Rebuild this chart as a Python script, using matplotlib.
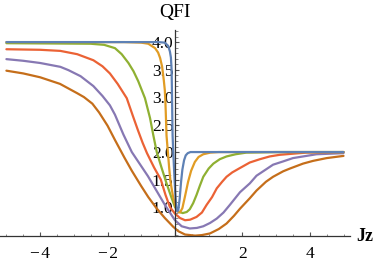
import numpy as np
import matplotlib
matplotlib.use("Agg")
import matplotlib.pyplot as plt
from matplotlib.ticker import MultipleLocator, FixedLocator

plt.rcParams['font.family'] = ['Liberation Serif', 'DejaVu Serif']

# curves (x = Jz, y = QFI)
blue_x = [-5, -1.0, -0.5, -0.3, -0.2, -0.15, -0.12, -0.1, -0.09, -0.08, -0.07, -0.05,
          -0.02, 0.01, 0.04, 0.07, 0.1, 0.14, 0.18, 0.22, 0.27, 0.32, 0.38, 0.46, 1.0, 5.0]
blue_y = [4.0, 4.0, 4.0, 3.99, 3.93, 3.83, 3.72, 3.5, 3.15, 2.7, 2.3, 2.0,
          1.6, 1.25, 1.0, 0.92, 0.95, 1.15, 1.45, 1.68, 1.85, 1.94, 1.98, 2.0, 2.0, 2.0]

orange_x = [-5, -1.5, -1.0, -0.79, -0.59, -0.5, -0.44, -0.38, -0.33, -0.3, -0.28, -0.25,
            -0.21, -0.17, -0.13, -0.06, 0.02, 0.08, 0.15, 0.22, 0.3, 0.39, 0.48, 0.59,
            0.7, 0.84, 1.05, 1.3, 5.0]
orange_y = [4.0, 4.0, 3.99, 3.97, 3.89, 3.81, 3.71, 3.55, 3.3, 3.12, 2.86, 2.3,
            2.0, 1.7, 1.45, 1.2, 1.0, 0.92, 0.9, 0.98, 1.2, 1.46, 1.66, 1.82,
            1.91, 1.96, 1.99, 2.0, 2.0]

green_x = [-5, -2.5, -2.1, -1.78, -1.58, -1.38, -1.23, -1.09, -0.89, -0.74, -0.64, -0.54,
           -0.4, -0.26, -0.12, 0.0, 0.1, 0.23, 0.35, 0.44, 0.54, 0.64, 0.74, 0.84,
           1.0, 1.14, 1.33, 1.53, 1.8, 2.12, 3.0, 5.0]
green_y = [3.98, 3.97, 3.95, 3.89, 3.78, 3.62, 3.47, 3.29, 2.98, 2.62, 2.3, 2.0,
           1.72, 1.45, 1.2, 1.0, 0.92, 0.89, 0.91, 0.96, 1.07, 1.22, 1.39, 1.55,
           1.7, 1.79, 1.87, 1.92, 1.96, 1.99, 2.0, 2.0]

red_x = [-5, -4, -3.4, -2.9, -2.42, -2.15, -1.93, -1.7, -1.43, -1.25, -1.1, -0.96,
         -0.83, -0.62, -0.42, -0.28, -0.15, 0.0, 0.15, 0.3, 0.45, 0.64, 0.8, 0.94,
         1.1, 1.24, 1.4, 1.53, 1.7, 1.9, 2.22, 2.52, 2.81, 3.11, 3.5, 3.9, 5.0]
red_y = [3.87, 3.86, 3.84, 3.78, 3.67, 3.56, 3.43, 3.24, 2.98, 2.66, 2.4, 2.17,
         1.98, 1.72, 1.5, 1.22, 1.0, 0.88, 0.8, 0.76, 0.77, 0.82, 0.9, 1.04,
         1.18, 1.34, 1.46, 1.55, 1.63, 1.7, 1.81, 1.87, 1.92, 1.95, 1.97, 1.99, 2.0]

purple_x = [-5, -4.5, -4, -3.4, -3.16, -2.8, -2.42, -2.15, -1.93, -1.78, -1.53, -1.28,
            -1.04, -0.8, -0.55, -0.3, -0.15, 0.0, 0.2, 0.44, 0.65, 0.84, 1.04,
            1.24, 1.44, 1.63, 1.93, 2.22, 2.42, 2.91, 3.21, 3.5, 4.2, 5.0]
purple_y = [3.69, 3.66, 3.62, 3.55, 3.49, 3.38, 3.2, 3.02, 2.85, 2.68, 2.32, 2.0,
            1.78, 1.56, 1.3, 1.04, 0.9, 0.76, 0.65, 0.61, 0.62, 0.65, 0.71,
            0.79, 0.9, 1.04, 1.27, 1.43, 1.57, 1.77, 1.83, 1.89, 1.96, 1.98]

brown_x = [-5, -4.5, -4, -3.41, -2.9, -2.7, -2.45, -2.25, -2.0, -1.78, -1.5, -1.28,
           -1.0, -0.79, -0.55, -0.3, -0.05, 0.1, 0.3, 0.6, 0.8, 1.04, 1.3, 1.53,
           1.75, 1.93, 2.22, 2.42, 2.7, 2.91, 3.21, 3.41, 3.8, 4.1, 4.5, 5.0]
brown_y = [3.48, 3.43, 3.36, 3.24, 3.07, 3.0, 2.88, 2.72, 2.48, 2.22, 1.9, 1.66,
           1.38, 1.18, 0.98, 0.8, 0.64, 0.56, 0.5, 0.48, 0.49, 0.52, 0.6, 0.7,
           0.84, 0.97, 1.16, 1.3, 1.46, 1.55, 1.65, 1.7, 1.79, 1.84, 1.89, 1.93]

curves = [
    (blue_x, blue_y, '#5E81B5'),
    (orange_x, orange_y, '#E19C24'),
    (green_x, green_y, '#8FB032'),
    (red_x, red_y, '#EB6235'),
    (purple_x, purple_y, '#8778B3'),
    (brown_x, brown_y, '#C56E1A'),
]

x_major = [-4, -2, 0, 2, 4]
x_labels = ['\u2212\u200a4', '\u2212\u200a2', '', '2', '4']
y_major = [1.0, 1.5, 2.0, 2.5, 3.0, 3.5, 4.0]

fig = plt.figure(figsize=(3.82, 2.65), dpi=100)
ax = fig.add_axes([0.0, 0.1094, 0.916, 0.7774])

for xs, ys, c in reversed(curves):
    ax.plot(xs, ys, color=c, lw=1.6, solid_joinstyle='round', solid_capstyle='round')

ax.set_xlim(-5.19, 5.19)
ax.set_ylim(0.473, 4.22)

# Mathematica-style axes crossing at x = 0
ax.spines['left'].set_position(('data', 0))
ax.spines['top'].set_visible(False)
ax.spines['right'].set_visible(False)
for s in ['left', 'bottom']:
    ax.spines[s].set_color('#333333')
    ax.spines[s].set_linewidth(0.9)

ax.xaxis.set_major_locator(FixedLocator(x_major))
ax.set_xticklabels(x_labels)
ax.xaxis.set_minor_locator(MultipleLocator(0.5))
ax.yaxis.set_major_locator(FixedLocator(y_major))
ax.set_yticklabels([f'{v:.1f}' for v in y_major])
ax.yaxis.set_minor_locator(MultipleLocator(0.1))

ax.tick_params(which='major', direction='in', length=3.2, width=0.8, color='#555555',
               labelsize=12.5, labelcolor='black')
ax.tick_params(which='minor', direction='in', length=1.8, width=0.6, color='#777777')
ax.tick_params(axis='y', pad=1)
ax.tick_params(axis='x', pad=7)

fig.text(0.458, 0.952, 'QFI', ha='center', va='center', fontsize=14)
fig.text(0.932, 0.106, 'Jz', ha='left', va='center', fontsize=13, fontweight='bold')

fig.savefig('out.png', dpi=100)
